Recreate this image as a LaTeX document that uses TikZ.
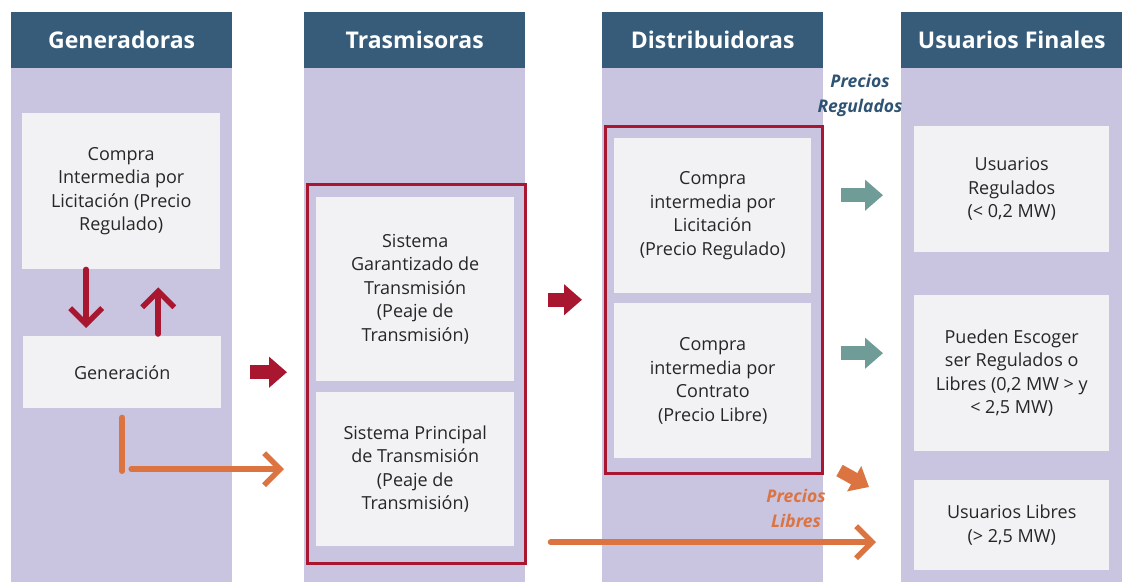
\documentclass[tikz,border=0pt]{standalone}
\usepackage{fontspec}
\setmainfont{Open Sans}
\usetikzlibrary{arrows.meta,positioning}
\definecolor{hdrblue}{HTML}{375C7A}
\definecolor{lilac}{HTML}{C9C5E0}
\definecolor{boxgray}{HTML}{F2F2F4}
\definecolor{mktred}{HTML}{A8162F}
\definecolor{mktorange}{HTML}{DC7442}
\definecolor{mktteal}{HTML}{709C98}
\definecolor{lblblue}{HTML}{2F5473}

\begin{document}
\begin{tikzpicture}[
    x = 1pt, y = -1pt,
    lane/.style = {fill=lilac, anchor=north west, inner sep=0, minimum width=221pt, minimum height=514pt},
    lanehead/.style = {fill=hdrblue, inner sep=0, minimum width=221pt, minimum height=56pt,
        text=white, font=\fontsize{23}{27}\selectfont\bfseries},
    infobox/.style = {fill=boxgray, anchor=north west, inner sep=0, align=center,
        text=black!85, font=\fontsize{18}{23.5}\selectfont},
    redframe/.style = {draw=mktred, line width=2.5pt, anchor=north west, inner sep=0},
    thinarrow/.style = {line width=5.5pt, line cap=round, -{Straight Barb[length=16pt,width=32pt]}},
    fatarrow/.style = {line width=14pt, -{Triangle[length=18pt,width=30pt]}},
    pricetag/.style = {align=center, font=\fontsize{17.5}{25}\selectfont\bfseries\itshape}]

\useasboundingbox (0,0) rectangle (1123,582);

\node[lane] (genlane) at (11,68) {};
\node[lane] (translane) at (304,68) {};
\node[lane] (distlane) at (602,68) {};
\node[lane] (userlane) at (901,68) {};
\node[lanehead, above=0pt of genlane] (genhead) {Generadoras};
\node[lanehead, above=0pt of translane] (transhead) {Trasmisoras};
\node[lanehead, above=0pt of distlane] (disthead) {Distribuidoras};
\node[lanehead, above=0pt of userlane] (userhead) {Usuarios Finales};

\node[redframe, minimum width=218pt, minimum height=379pt] (transframe) at (306,183) {};
\node[redframe, minimum width=217pt, minimum height=347pt] (distframe) at (604,125) {};

\node[infobox, minimum width=198pt, minimum height=156pt] (licit) at (22,113)
    {Compra\\Intermedia por\\Licitación (Precio\\Regulado)};
\node[infobox, minimum width=198pt, minimum height=72pt] (gen) at (23,336) {Generación};
\node[infobox, minimum width=198pt, minimum height=184pt] (sgt) at (316,197)
    {Sistema\\Garantizado de\\Transmisión\\(Peaje de\\Transmisión)};
\node[infobox, minimum width=198pt, minimum height=154pt] (spt) at (316,392)
    {Sistema Principal\\de Transmisión\\(Peaje de\\Transmisión)};
\node[infobox, minimum width=197pt, minimum height=155pt] (cil) at (614,138)
    {Compra\\intermedia por\\Licitación\\(Precio Regulado)};
\node[infobox, minimum width=197pt, minimum height=155pt] (cic) at (614,303)
    {Compra\\intermedia por\\Contrato\\(Precio Libre)};
\node[infobox, minimum width=195pt, minimum height=126pt] (ureg) at (914,126)
    {Usuarios\\Regulados\\(< 0,2 MW)};
\node[infobox, minimum width=195pt, minimum height=156pt] (uesc) at (914,295)
    {Pueden Escoger\\ser Regulados o\\Libres (0,2 MW > y\\< 2,5 MW)};
\node[infobox, minimum width=195pt, minimum height=90pt] (ulib) at (914,480)
    {Usuarios Libres\\(> 2,5 MW)};

\node[pricetag, text=lblblue] (regtag) at (860,95) {Precios\\Regulados};
\node[pricetag, text=mktorange] (libtag) at (796,508) {Precios\\Libres};

\draw[thinarrow, mktred, shorten >=8pt] ([xshift=-35pt]licit.south) -- ([xshift=-36pt]gen.north);
\draw[thinarrow, mktred, shorten <=2pt, shorten >=18pt] ([xshift=36pt]gen.north) -- ([xshift=37pt]licit.south);

\draw[mktorange, line width=5.5pt, line cap=round, shorten <=9pt]
    (gen.south) -- ([yshift=-2pt]gen.south |- spt.west);
\draw[thinarrow, mktorange, shorten >=32pt] ([xshift=9pt]gen.south |- spt.west) -- (spt.west);

\draw[fatarrow, mktred, shorten <=29pt, shorten >=19pt] (gen.east) -- (gen.east -| transframe.west);
\draw[fatarrow, mktred, shorten <=21pt, shorten >=22pt] (transframe.east |- distframe.west) -- (distframe.west);

\draw[fatarrow, mktteal, shorten <=17pt, shorten >=31pt]
    ([yshift=-6pt]ureg.west -| distframe.east) -- ([yshift=-6pt]ureg.west);
\draw[fatarrow, mktteal, shorten <=17pt, shorten >=31pt]
    ([yshift=20pt]uesc.west -| distframe.east) -- ([yshift=20pt]uesc.west);
\draw[mktorange, line width=13pt, -{Triangle[length=17pt,width=28pt]}]
    ([shift={(16,-4)}]distframe.south east) -- ([shift={(-45,7)}]ulib.north west);

\draw[thinarrow, mktorange, shorten <=24pt, shorten >=38pt]
    ([yshift=-17pt]ulib.west -| transframe.east) -- ([yshift=-17pt]ulib.west);
\end{tikzpicture}
\end{document}
